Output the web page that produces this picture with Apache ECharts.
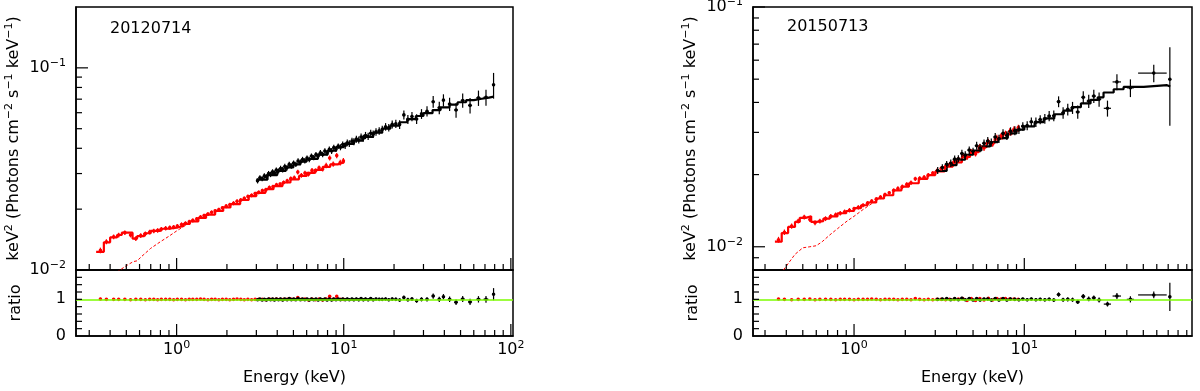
<!DOCTYPE html>
<html lang="en" style="height: 100%">
<head>
  <meta charset="utf-8">
</head>
<body style="height: 100%; margin: 0; background-color: #fff">
  <div id="container" style="width: 1200px; height: 391px"></div>
  <script type="text/javascript" src="https://cdn.jsdelivr.net/npm/echarts@6.0.0/dist/echarts.min.js"></script>
  <script type="text/javascript">
    // ---- data ----
    // points: [energy, half width, flux, flux error, ratio]
    var leftRed = [
      [0.35,0,0.0125,0.0004,1.01],[0.38,0,0.0138,0.0004,1.00],[0.42,0,0.0146,0.0004,1.00],[0.45,0,0.0149,0.0004,1.00],
      [0.49,0,0.0153,0.0004,1.00],[0.53,0,0.0149,0.0004,0.99],[0.57,0,0.0143,0.0004,1.00],[0.61,0,0.0148,0.0004,1.00],
      [0.65,0,0.0151,0.0004,0.99],[0.69,0,0.0154,0.0004,1.00],[0.73,0,0.0156,0.0004,1.00],[0.77,0,0.0157,0.0004,0.99],
      [0.81,0,0.0159,0.0004,1.00],[0.86,0,0.0161,0.0004,1.00],[0.91,0,0.0162,0.0004,1.00],[0.96,0,0.0163,0.0004,0.99],
      [1.01,0,0.0165,0.0004,1.00],[1.07,0,0.0168,0.0004,1.00],[1.13,0,0.0170,0.0004,0.99],[1.19,0,0.0173,0.0004,1.00],
      [1.25,0,0.0176,0.0004,1.00],[1.32,0,0.0179,0.0004,1.00],[1.39,0,0.0183,0.0004,1.01],[1.46,0,0.0186,0.0004,1.00],
      [1.54,0,0.0189,0.0004,0.99],[1.62,0,0.0193,0.0004,1.00],[1.70,0,0.0196,0.0004,1.00],[1.79,0,0.0199,0.0004,0.99],
      [1.88,0,0.0203,0.0004,1.00],[1.98,0,0.0207,0.0005,1.00],[2.08,0,0.0210,0.0005,0.99],[2.19,0,0.0214,0.0005,1.00],
      [2.30,0,0.0219,0.0005,1.01],[2.42,0,0.0222,0.0005,1.00],[2.54,0,0.0226,0.0005,0.99],[2.67,0,0.0231,0.0005,1.00],
      [2.81,0,0.0234,0.0005,0.99],[2.95,0,0.0239,0.0005,1.00],[3.10,0,0.0242,0.0005,1.00],[3.26,0,0.0247,0.0005,1.00],
      [3.42,0,0.0249,0.0006,0.99],[3.59,0,0.0256,0.0006,1.01],[3.77,0,0.0258,0.0006,1.00],[3.96,0,0.0264,0.0006,1.01],
      [4.16,0,0.0266,0.0006,1.00],[4.37,0,0.0271,0.0006,1.00],[4.59,0,0.0276,0.0007,1.00],[4.82,0,0.0283,0.0007,1.01],
      [5.06,0,0.0286,0.0007,1.00],[5.31,0,0.0305,0.0008,1.05],[5.58,0,0.0294,0.0008,1.00],[5.86,0,0.0302,0.0008,1.01],
      [6.15,0,0.0298,0.0008,0.98],[6.46,0,0.0311,0.0009,1.01],[6.78,0,0.0309,0.0009,0.99],[7.12,0,0.0320,0.0009,1.01],
      [7.48,0,0.0316,0.0009,0.98],[7.85,0,0.0329,0.0010,1.01],[8.24,0,0.0358,0.0010,1.08],[8.65,0,0.0334,0.0010,1.00],
      [9.08,0,0.0368,0.0011,1.08],[9.53,0,0.0340,0.0011,1.00],[9.95,0,0.0347,0.0011,1.00]
    ];
    var leftBlack = [
      [3.05,0.05,0.0276,0.0008,0.99],[3.15,0.05,0.0286,0.0008,1.01],[3.25,0.05,0.0283,0.0008,0.98],[3.35,0.05,0.0292,0.0009,1.00],
      [3.45,0.05,0.0289,0.0009,0.98],[3.55,0.05,0.0300,0.0009,1.01],[3.65,0.05,0.0297,0.0009,0.99],[3.75,0.05,0.0306,0.0009,1.01],
      [3.85,0.05,0.0302,0.0009,0.98],[3.95,0.05,0.0312,0.0009,1.01],[4.07,0.06,0.0309,0.0009,0.99],[4.19,0.06,0.0318,0.0010,1.01],
      [4.31,0.06,0.0314,0.0010,0.98],[4.44,0.07,0.0325,0.0010,1.01],[4.58,0.07,0.0321,0.0010,0.99],[4.72,0.07,0.0333,0.0010,1.02],
      [4.86,0.07,0.0327,0.0010,0.99],[5.01,0.08,0.0338,0.0010,1.01],[5.17,0.08,0.0333,0.0010,0.99],[5.33,0.08,0.0346,0.0011,1.02],
      [5.50,0.09,0.0341,0.0011,0.99],[5.67,0.09,0.0352,0.0011,1.01],[5.85,0.09,0.0347,0.0011,0.99],[6.03,0.09,0.0358,0.0011,1.01],
      [6.22,0.10,0.0352,0.0011,0.98],[6.41,0.10,0.0366,0.0011,1.01],[6.61,0.10,0.0360,0.0011,0.99],[6.82,0.11,0.0372,0.0012,1.01],
      [7.03,0.11,0.0366,0.0012,0.98],[7.25,0.11,0.0380,0.0012,1.01],[7.48,0.12,0.0373,0.0012,0.99],[7.71,0.12,0.0388,0.0012,1.01],
      [7.95,0.12,0.0380,0.0012,0.98],[8.20,0.13,0.0395,0.0013,1.01],[8.46,0.13,0.0388,0.0013,0.98],[8.72,0.14,0.0403,0.0013,1.01],
      [8.99,0.14,0.0397,0.0013,0.99],[9.27,0.14,0.0410,0.0013,1.01],[9.56,0.15,0.0405,0.0014,0.99],[9.86,0.15,0.0418,0.0014,1.01],
      [10.2,0.16,0.0413,0.0016,0.99],[10.5,0.16,0.0426,0.0016,1.01],[10.8,0.17,0.0422,0.0016,0.99],[11.2,0.17,0.0434,0.0017,1.01],
      [11.5,0.18,0.0431,0.0017,0.99],[11.9,0.18,0.0444,0.0018,1.01],[12.3,0.19,0.0440,0.0018,0.99],[12.7,0.20,0.0455,0.0018,1.02],
      [13.1,0.20,0.0449,0.0018,0.99],[13.5,0.21,0.0463,0.0019,1.01],[14.0,0.22,0.0459,0.0019,0.99],[14.5,0.23,0.0475,0.0019,1.02],
      [15.0,0.24,0.0470,0.0020,0.99],[15.6,0.25,0.0482,0.0020,1.01],[16.3,0.27,0.0488,0.0021,1.00],[17.0,0.28,0.0496,0.0021,1.00],
      [17.8,0.30,0.0511,0.0022,1.01],[18.6,0.32,0.0506,0.0022,0.99],[19.5,0.34,0.0525,0.0024,1.01],[20.5,0.36,0.0529,0.0025,1.00],
      [21.6,0.38,0.0524,0.0026,0.98],[22.9,0.40,0.0585,0.0030,1.05],[24.2,0.43,0.0556,0.0029,0.99],[25.6,0.46,0.0575,0.0030,1.01],
      [27.3,0.50,0.0558,0.0031,0.96],[29.2,0.55,0.0592,0.0033,1.00],[31.5,0.60,0.0610,0.0036,1.00],[34.3,0.70,0.0680,0.0045,1.09],
      [37.3,0.80,0.0635,0.0045,1.00],[39.5,0.80,0.0692,0.0048,1.07],[43.0,1.00,0.0662,0.0050,1.00],[47.0,1.20,0.0619,0.0052,0.92],
      [51.5,1.40,0.0690,0.0056,1.01],[57.0,1.60,0.0652,0.0058,0.93],[64.0,2.00,0.0710,0.0062,1.00],[71.0,2.50,0.0715,0.0065,1.00],
      [78.8,1.00,0.0824,0.0120,1.14]
    ];
    var rightRed = [
      [0.36,0,0.0107,0.0003,1.01],[0.39,0,0.0115,0.0003,1.00],[0.43,0,0.0122,0.0003,0.99],[0.47,0,0.0128,0.0003,1.00],
      [0.51,0,0.0133,0.0003,1.00],[0.55,0,0.0130,0.0003,1.01],[0.59,0,0.0126,0.0003,0.99],[0.63,0,0.0128,0.0003,1.00],
      [0.68,0,0.0131,0.0003,1.00],[0.73,0,0.0134,0.0003,1.00],[0.78,0,0.0136,0.0003,0.99],[0.83,0,0.0138,0.0003,1.00],
      [0.88,0,0.0140,0.0003,1.00],[0.94,0,0.0142,0.0003,1.00],[1.00,0,0.0144,0.0003,0.99],[1.06,0,0.0146,0.0003,1.00],
      [1.13,0,0.0149,0.0003,1.00],[1.20,0,0.0152,0.0003,1.00],[1.27,0,0.0155,0.0003,1.01],[1.35,0,0.0158,0.0003,1.00],
      [1.43,0,0.0161,0.0003,0.99],[1.52,0,0.0165,0.0003,1.00],[1.61,0,0.0168,0.0003,1.00],[1.71,0,0.0172,0.0003,1.00],
      [1.81,0,0.0175,0.0004,0.99],[1.92,0,0.0178,0.0004,1.00],[2.04,0,0.0182,0.0004,1.00],[2.16,0,0.0185,0.0004,0.99],
      [2.29,0,0.0192,0.0004,1.02],[2.43,0,0.0193,0.0004,1.00],[2.58,0,0.0195,0.0004,0.99],[2.73,0,0.0199,0.0004,1.00],
      [2.90,0,0.0203,0.0004,0.99],[3.07,0,0.0207,0.0005,1.00],[3.25,0,0.0212,0.0005,1.00],[3.45,0,0.0216,0.0005,0.99],
      [3.65,0,0.0221,0.0005,1.00],[3.87,0,0.0226,0.0005,1.00],[4.10,0,0.0232,0.0005,1.01],[4.35,0,0.0240,0.0006,1.02],
      [4.61,0,0.0236,0.0006,0.97],[4.88,0,0.0250,0.0006,1.02],[5.17,0,0.0244,0.0006,0.97],[5.48,0,0.0262,0.0007,1.02],
      [5.80,0,0.0258,0.0007,0.98],[6.15,0,0.0275,0.0007,1.03],[6.52,0,0.0268,0.0007,0.98],[6.90,0,0.0285,0.0008,1.02],
      [7.31,0,0.0290,0.0008,1.01],[7.75,0,0.0297,0.0008,1.02],[8.21,0,0.0303,0.0009,1.01],[8.70,0,0.0309,0.0009,1.01],
      [9.22,0,0.0314,0.0009,1.00]
    ];
    var rightBlack = [
      [3.1,0.08,0.0208,0.0007,1.00],[3.3,0.08,0.0214,0.0007,1.01],[3.5,0.09,0.0221,0.0007,1.02],[3.7,0.09,0.0223,0.0008,0.99],
      [3.9,0.10,0.0232,0.0008,1.02],[4.1,0.10,0.0233,0.0008,0.99],[4.3,0.11,0.0245,0.0009,1.03],[4.5,0.11,0.0241,0.0009,0.99],
      [4.75,0.12,0.0253,0.0009,1.02],[5.0,0.12,0.0250,0.0009,0.98],[5.25,0.13,0.0264,0.0010,1.02],[5.5,0.13,0.0258,0.0010,0.98],
      [5.8,0.14,0.0270,0.0010,1.01],[6.1,0.15,0.0276,0.0011,1.01],[6.4,0.16,0.0272,0.0011,0.98],[6.75,0.17,0.0287,0.0011,1.02],
      [7.1,0.17,0.0282,0.0011,0.98],[7.5,0.18,0.0297,0.0012,1.02],[7.9,0.19,0.0291,0.0012,0.98],[8.3,0.20,0.0303,0.0012,1.01],
      [8.8,0.22,0.0305,0.0013,1.00],[9.3,0.23,0.0308,0.0013,0.99],[9.8,0.24,0.0318,0.0013,1.01],[10.4,0.26,0.0320,0.0014,0.99],
      [11.0,0.27,0.0332,0.0014,1.01],[11.7,0.29,0.0331,0.0015,0.99],[12.4,0.31,0.0339,0.0015,1.00],[13.2,0.33,0.0342,0.0016,0.99],
      [14.0,0.35,0.0351,0.0017,1.00],[14.9,0.37,0.0352,0.0018,0.98],[15.9,0.40,0.0403,0.0021,1.13],[16.9,0.42,0.0362,0.0020,0.99],
      [18.0,0.45,0.0374,0.0021,1.00],[19.2,0.48,0.0380,0.0022,0.99],[20.6,0.55,0.0365,0.0023,0.93],[22.2,0.60,0.0420,0.0025,1.08],
      [23.9,0.65,0.0405,0.0026,1.01],[25.6,0.70,0.0425,0.0027,1.04],[27.5,0.80,0.0412,0.0028,0.98],[30.8,1.50,0.0378,0.0029,0.87],
      [35.0,2.00,0.0487,0.0037,1.09],[42.0,2.00,0.0460,0.0039,1.00],[57.6,11.0,0.0530,0.0044,1.12],[71.6,1.00,0.0500,0.0180,1.07]
    ];

    // models: [bin start energy, value], drawn as steps
    var leftRedModel = [
      [0.33,0.0123],[0.367,0.0137],[0.40,0.0145],[0.44,0.0149],[0.47,0.0153],[0.51,0.0153],[0.545,0.0143],[0.58,0.0147],
      [0.64,0.0152],[0.70,0.0156],[0.80,0.0160],[0.90,0.0162],[1.0,0.0165],[1.1,0.0169],[1.2,0.0174],[1.35,0.0181],
      [1.5,0.0188],[1.7,0.0196],[1.9,0.0204],[2.1,0.0212],[2.4,0.0222],[2.7,0.0232],[3.0,0.0241],[3.4,0.0251],
      [3.8,0.0260],[4.3,0.0271],[4.8,0.0281],[5.4,0.0292],[6.0,0.0302],[6.7,0.0313],[7.5,0.0324],[8.3,0.0333],
      [9.2,0.0340],[10.0,0.0346]
    ];
    var leftRedNoAbs = [
      [0.40,0.0090],[0.45,0.0099],[0.50,0.0105],[0.55,0.0110],[0.58,0.0111],[0.62,0.0117],[0.70,0.0128],[0.80,0.0138],
      [0.90,0.0147],[1.0,0.0156],[1.1,0.0164],[1.2,0.0172],[1.3,0.0178]
    ];
    var leftBlackModel = [
      [3.0,0.0280],[3.5,0.0295],[4.0,0.0309],[4.5,0.0322],[5.0,0.0333],[5.5,0.0344],[6.0,0.0354],[7.0,0.0372],
      [8.0,0.0389],[9.0,0.0405],[10,0.0420],[11.5,0.0437],[13,0.0456],[15,0.0478],[17,0.0500],[19,0.0518],
      [21.5,0.0538],[24,0.0558],[27,0.0578],[30,0.0597],[34,0.0618],[38,0.0638],[43,0.0658],[48,0.0676],
      [54,0.0692],[60,0.0703],[67,0.0713],[74,0.0721],[79,0.0721]
    ];
    var rightRedModel = [
      [0.343,0.0105],[0.376,0.0114],[0.41,0.0121],[0.45,0.0127],[0.48,0.0132],[0.52,0.0134],[0.56,0.0127],[0.60,0.0128],
      [0.66,0.0131],[0.72,0.0134],[0.80,0.0138],[0.90,0.0141],[1.0,0.0145],[1.1,0.0149],[1.2,0.0153],[1.35,0.0159],
      [1.5,0.0164],[1.7,0.0172],[1.9,0.0178],[2.1,0.0184],[2.4,0.0192],[2.7,0.0199],[3.0,0.0206],[3.4,0.0216],
      [3.8,0.0225],[4.3,0.0237],[4.8,0.0248],[5.4,0.0260],[6.0,0.0271],[6.7,0.0283],[7.5,0.0294],[8.4,0.0305],
      [9.25,0.0314]
    ];
    var rightRedNoAbs = [
      [0.37,0.0077],[0.45,0.0093],[0.50,0.0099],[0.55,0.0100],[0.60,0.0101],[0.65,0.0105],[0.72,0.0112],[0.80,0.0119],
      [0.91,0.0128],[1.0,0.0134],[1.13,0.0143],[1.3,0.0153],[1.42,0.0160]
    ];
    var rightBlackModel = [
      [3.06,0.0207],[3.5,0.0219],[4.0,0.0231],[4.5,0.0242],[5.0,0.0252],[5.6,0.0262],[6.3,0.0273],[7.0,0.0284],
      [8.0,0.0297],[9.0,0.0308],[10,0.0318],[11.5,0.0331],[13,0.0343],[15,0.0357],[17,0.0370],[19,0.0382],
      [21.5,0.0396],[24.5,0.0410],[27,0.0420],[29.2,0.0440],[33.5,0.0454],[38.3,0.0464],[50.3,0.0472],[68.9,0.0466],
      [72,0.0466]
    ];

    // ticks and tick labels
    var majorX = [1, 10, 100];
    var minorX = [0.3,0.4,0.5,0.6,0.7,0.8,0.9,2,3,4,5,6,7,8,9,20,30,40,50,60,70,80,90];
    var majorY = [0.01, 0.1];
    var minorYLeft = [0.02,0.03,0.04,0.05,0.06,0.07,0.08,0.09];
    var minorYRight = [0.009,0.02,0.03,0.04,0.05,0.06,0.07,0.08,0.09];
    var ratioTicks = [0.2,0.4,0.6,0.8,1,1.2,1.4,1.6];
    var ratioLabels = [0, 1];

    var FONT = 'DejaVu Sans';
    var RED = '#ff0000', BLACK = '#000000', GREEN = '#7cfc00';

    var dom = document.getElementById('container');
    var myChart = echarts.init(dom, null, { renderer: 'canvas' });

    //-----function-------
    function powLabel(v) {
      var e = Math.round(Math.log10(v));
      return '{b|10}{s|' + String(e).replace('-', '\u2212') + '}';
    }
    var rich = {
      b: { fontSize: 16, fontFamily: FONT, color: '#000' },
      s: { fontSize: 11, fontFamily: FONT, color: '#000', padding: [0, 0, 9, 0] }
    };
    function inRange(list, min, max) {
      return list.filter(function (v) { return v >= min && v <= max; });
    }
    function xAxis(grid, min, max, labels, name) {
      var ax = {
        type: 'log', gridIndex: grid, min: min, max: max, position: 'bottom',
        axisLine: { show: true, lineStyle: { color: '#000', width: 1.5 } },
        axisTick: { show: false },
        axisLabel: { show: labels, customValues: inRange(majorX, min, max), formatter: powLabel, rich: rich, margin: 4 },
        splitLine: { show: false }
      };
      if (name) {
        ax.name = name;
        ax.nameLocation = 'middle';
        ax.nameGap = 34;
        ax.nameMoveOverlap = false;
        ax.nameTextStyle = { fontSize: 16, fontFamily: FONT, color: '#000' };
      }
      return ax;
    }
    function yAxisLog(grid, min, max) {
      return {
        type: 'log', gridIndex: grid, min: min, max: max, position: 'left',
        name: '{n|keV}{s|2}{n| (Photons cm}{s|\u22122}{n| s}{s|\u22121}{n| keV}{s|\u22121}{n|)}',
        nameLocation: 'middle', nameGap: 52, nameMoveOverlap: false,
        nameTextStyle: {
          rich: {
            n: { fontSize: 16, fontFamily: FONT, color: '#000' },
            s: { fontSize: 11, fontFamily: FONT, color: '#000', padding: [0, 0, 9, 0] }
          }
        },
        axisLine: { show: true, lineStyle: { color: '#000', width: 1.5 } },
        axisTick: { show: false },
        axisLabel: { show: true, customValues: inRange(majorY, min, max), formatter: powLabel, rich: rich, margin: 10 },
        splitLine: { show: false }
      };
    }
    function yAxisRatio(grid) {
      return {
        type: 'value', gridIndex: grid, min: 0, max: 1.8, position: 'left',
        name: 'ratio', nameLocation: 'middle', nameGap: 52, nameMoveOverlap: false,
        nameTextStyle: { fontSize: 16, fontFamily: FONT, color: '#000' },
        axisLine: { show: true, lineStyle: { color: '#000', width: 1.5 } },
        axisTick: { show: false },
        axisLabel: { show: true, customValues: ratioLabels, fontSize: 16, fontFamily: FONT, color: '#000', margin: 10 },
        splitLine: { show: false }
      };
    }
    // inward ticks, placed through the axes' own scales
    function ticks(xi, yi, xMajor, xMinor, yMajor, yMinor, refX, refY) {
      var rows = [];
      xMajor.forEach(function (v) { rows.push([v, 0, 12, refX, refY]); });
      xMinor.forEach(function (v) { rows.push([v, 0, 6, refX, refY]); });
      yMajor.forEach(function (v) { rows.push([v, 1, 12, refX, refY]); });
      yMinor.forEach(function (v) { rows.push([v, 1, 6, refX, refY]); });
      return {
        type: 'custom', xAxisIndex: xi, yAxisIndex: yi, clip: false, z: 5, silent: true,
        encode: { x: 3, y: 4 },
        renderItem: function (params, api) {
          var cs = params.coordSys;
          var v = api.value(0), kind = api.value(1), len = api.value(2);
          var st = { stroke: '#000', lineWidth: 1.2 };
          if (kind === 0) {
            var px = api.coord([v, api.value(4)])[0];
            var yb = cs.y + cs.height;
            return { type: 'line', shape: { x1: px, y1: yb, x2: px, y2: yb - len }, style: st };
          }
          var py = api.coord([api.value(3), v])[1];
          return { type: 'line', shape: { x1: cs.x, y1: py, x2: cs.x + len, y2: py }, style: st };
        },
        data: rows
      };
    }
    function errRender(params, api) {
      var x = api.value(0), y = api.value(1);
      var c = api.coord([x, y]);
      var xl = api.coord([api.value(2), y]), xh = api.coord([api.value(3), y]);
      var yl = api.coord([x, api.value(4)]), yh = api.coord([x, api.value(5)]);
      var color = api.visual('color');
      return {
        type: 'group',
        children: [
          { type: 'line', shape: { x1: xl[0], y1: c[1], x2: xh[0], y2: c[1] }, style: { stroke: color, lineWidth: 1.2 } },
          { type: 'line', shape: { x1: c[0], y1: yl[1], x2: c[0], y2: yh[1] }, style: { stroke: color, lineWidth: 1.2 } },
          { type: 'circle', shape: { cx: c[0], cy: c[1], r: 1.8 }, style: { fill: color } }
        ]
      };
    }
    function points(rows, color, xi, yi) {
      return {
        type: 'custom', xAxisIndex: xi, yAxisIndex: yi, clip: true, z: 4,
        itemStyle: { color: color },
        renderItem: errRender,
        encode: { x: 0, y: 1 },
        data: rows.map(function (r) {
          return [r[0], r[2], r[0] - r[1], r[0] + r[1], r[2] - r[3], r[2] + r[3]];
        })
      };
    }
    function ratioPoints(rows, color, xi, yi) {
      return {
        type: 'custom', xAxisIndex: xi, yAxisIndex: yi, clip: true, z: 4,
        itemStyle: { color: color },
        renderItem: errRender,
        encode: { x: 0, y: 1 },
        data: rows.map(function (r) {
          var d = r[4] * r[3] / r[2];
          return [r[0], r[4], r[0] - r[1], r[0] + r[1], r[4] - d, r[4] + d];
        })
      };
    }
    function model(data, color, xi, yi, dashed) {
      return {
        type: 'line', xAxisIndex: xi, yAxisIndex: yi, step: dashed ? false : 'end',
        showSymbol: false, symbol: 'none', clip: true, z: dashed ? 2 : 3,
        lineStyle: { color: color, width: dashed ? 1 : 2.2, type: dashed ? [3, 2] : 'solid' },
        data: data
      };
    }
    function unity(xi, yi) {
      return {
        type: 'line', xAxisIndex: xi, yAxisIndex: yi, data: [], z: 1,
        markLine: {
          silent: true, symbol: 'none', label: { show: false },
          lineStyle: { color: GREEN, width: 1.5, type: 'solid' },
          data: [{ yAxis: 1 }]
        }
      };
    }

    var gridStyle = { show: true, borderColor: '#000', borderWidth: 1.5, backgroundColor: 'transparent', containLabel: false, outerBoundsMode: 'none' };
    var option = {
      animation: false,
      backgroundColor: '#fff',
      title: [
        { text: '20120714', left: 110, top: 21, padding: 0, textStyle: { fontSize: 16, fontWeight: 'normal', fontFamily: FONT, color: '#000' } },
        { text: '20150713', left: 787, top: 19, padding: 0, textStyle: { fontSize: 16, fontWeight: 'normal', fontFamily: FONT, color: '#000' } }
      ],
      grid: [
        Object.assign({ left: 76, top: 7, width: 437, height: 263 }, gridStyle),
        Object.assign({ left: 76, top: 270, width: 437, height: 66 }, gridStyle),
        Object.assign({ left: 753, top: 7, width: 439, height: 263 }, gridStyle),
        Object.assign({ left: 753, top: 270, width: 439, height: 66 }, gridStyle)
      ],
      xAxis: [
        xAxis(0, 0.25, 103, false),
        xAxis(1, 0.25, 103, true, 'Energy (keV)'),
        xAxis(2, 0.255, 96.6, false),
        xAxis(3, 0.255, 96.6, true, 'Energy (keV)')
      ],
      yAxis: [
        yAxisLog(0, 0.01, 0.2),
        yAxisRatio(1),
        yAxisLog(2, 0.008, 0.1),
        yAxisRatio(3)
      ],
      //------------图表-------------
      series: [
        model(leftRedNoAbs, RED, 0, 0, true),
        model(leftRedModel, RED, 0, 0, false),
        model(leftBlackModel, BLACK, 0, 0, false),
        points(leftRed, RED, 0, 0),
        points(leftBlack, BLACK, 0, 0),
        ticks(0, 0, inRange(majorX, 0.25, 103), inRange(minorX, 0.25, 103), inRange(majorY, 0.01, 0.2), inRange(minorYLeft, 0.01, 0.2), 1, 0.05),
        unity(1, 1),
        ratioPoints(leftRed, RED, 1, 1),
        ratioPoints(leftBlack, BLACK, 1, 1),
        ticks(1, 1, inRange(majorX, 0.25, 103), inRange(minorX, 0.25, 103), [], ratioTicks, 1, 1),

        model(rightRedNoAbs, RED, 2, 2, true),
        model(rightRedModel, RED, 2, 2, false),
        model(rightBlackModel, BLACK, 2, 2, false),
        points(rightRed, RED, 2, 2),
        points(rightBlack, BLACK, 2, 2),
        ticks(2, 2, inRange(majorX, 0.255, 96.6), inRange(minorX, 0.255, 96.6), inRange(majorY, 0.008, 0.1), inRange(minorYRight, 0.008, 0.1), 1, 0.05),
        unity(3, 3),
        ratioPoints(rightRed, RED, 3, 3),
        ratioPoints(rightBlack, BLACK, 3, 3),
        ticks(3, 3, inRange(majorX, 0.255, 96.6), inRange(minorX, 0.255, 96.6), [], ratioTicks, 1, 1)
      ]
    };

    myChart.setOption(option);
    window.addEventListener('resize', myChart.resize);
  </script>
</body>
</html>
